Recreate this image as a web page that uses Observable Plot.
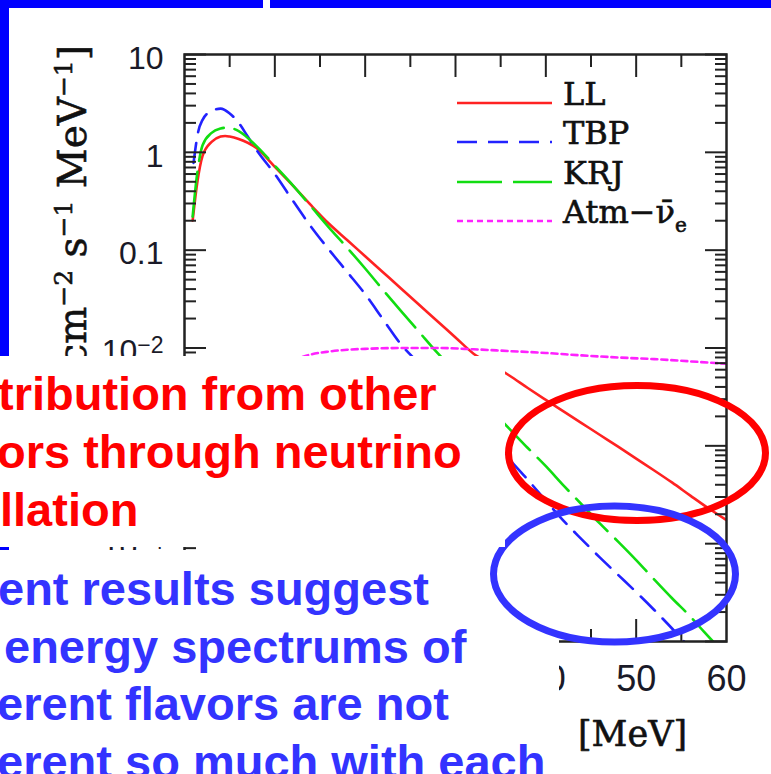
<!DOCTYPE html>
<html>
<head>
<meta charset="utf-8">
<script src="https://cdn.jsdelivr.net/npm/d3@7"></script>
<script src="https://cdn.jsdelivr.net/npm/@observablehq/plot@0.6"></script>
<style>
  html, body { margin: 0; padding: 0; background: #fff; }
  #page { position: relative; width: 771px; height: 774px; overflow: hidden; background: #fff; }
  #chart { position: absolute; left: 0; top: 0; }
  .layer { position: absolute; left: 0; top: 0; }
</style>
</head>
<body>
<div id="page">
  <div id="chart"></div>
  <svg class="layer" width="771" height="774" id="deco">
    <!-- slide frame bars -->
    <rect x="0" y="0" width="263" height="8" fill="#0000ff"/>
    <rect x="270" y="0" width="501" height="8" fill="#0000ff"/>
    <rect x="0" y="0" width="9" height="774" fill="#0000ff"/>
    <!-- y axis label -->
    <text transform="translate(86,45) rotate(-90)" text-anchor="end" font-family="DejaVu Serif, serif" font-size="39" fill="#111" stroke="#111" stroke-width="0.6">[cm<tspan dy="-14" font-size="25">−2</tspan><tspan dy="14"> s</tspan><tspan dy="-14" font-size="25">−1</tspan><tspan dy="14"> MeV</tspan><tspan dy="-14" font-size="25">−1</tspan><tspan dy="14">]</tspan></text>
    <!-- legend -->
    <g id="legend" font-family="DejaVu Serif, serif" font-size="32" fill="#111"></g>
    <!-- lower text box (blue text) -->
    <rect x="0" y="550" width="559" height="224" fill="#fff"/>
    <g font-family="Liberation Sans, Arial, sans-serif" font-weight="bold" font-size="47" fill="#3333ff">
      <text x="-2" y="605">ent results suggest</text>
      <text x="4" y="663">energy spectrums of</text>
      <text x="-3" y="720">erent flavors are not</text>
      <text x="-3" y="778">erent so much with each</text>
    </g>
    <!-- ellipses -->
    <ellipse cx="637" cy="453" rx="128.5" ry="67.5" fill="none" stroke="#ff0000" stroke-width="7"/>
    <ellipse cx="614.5" cy="574" rx="121" ry="68" fill="none" stroke="#3333ff" stroke-width="7"/>
    <!-- upper text box (red text) -->
    <rect x="0" y="356" width="505" height="191" fill="#fff"/>
    <g font-family="Liberation Sans, Arial, sans-serif" font-weight="bold" font-size="47" fill="#ff0000">
      <text x="-2" y="410">tribution from other</text>
      <text x="-3" y="468">ors through neutrino</text>
      <text x="0" y="526">llation</text>
    </g>
  </svg>
</div>
<script>
// ---- data (energy in MeV, flux in cm^-2 s^-1 MeV^-1) ----
const llE  = [0.9, 1.4, 2, 3, 4, 4.5, 5, 6, 8, 10, 12, 14, 16, 18, 20, 22, 24, 26, 28, 30, 32, 34, 36, 38, 40, 42, 44, 46, 48, 50, 52, 54, 56, 58, 60];
const llV  = [0.20, 0.48, 0.92, 1.28, 1.45, 1.47, 1.45, 1.37, 1.10, 0.71, 0.457, 0.288, 0.186, 0.127, 0.0867, 0.0592, 0.0404, 0.0275, 0.0188, 0.0128, 0.00875, 0.0068, 0.0052, 0.0039, 0.00295, 0.00224, 0.0017, 0.00129, 0.00098, 0.00074, 0.00056, 0.00042, 0.00031, 0.00023, 0.000174];

const tbpE = [1, 1.5, 2, 3, 4, 5, 6, 7, 8, 10, 12, 14, 16, 18, 20, 22, 24, 26, 28, 30, 32, 34, 36, 38, 40, 42, 44, 46, 48, 50, 52, 54, 55.3];
const tbpV = [0.78, 1.6, 2.15, 2.65, 2.8, 2.5, 2.0, 1.45, 1.05, 0.60, 0.32, 0.174, 0.101, 0.060, 0.0355, 0.0195, 0.0108, 0.0069, 0.0044, 0.0028, 0.0018, 0.00115, 0.00072, 0.00045, 0.000275, 0.00017, 0.00011, 0.000072, 0.000048, 0.000032, 0.000021, 0.0000135, 0.00001];

const krjE = [0.9, 1.4, 2, 3, 4, 4.8, 6, 8, 10, 12, 14, 16, 18, 20, 22, 24, 26, 28, 30, 32, 34, 36, 38, 40, 42, 44, 46, 48, 50, 52, 54, 56, 57.5, 58.5];
const krjV = [0.22, 0.60, 1.18, 1.58, 1.75, 1.79, 1.65, 1.15, 0.73, 0.46, 0.28, 0.17, 0.106, 0.065, 0.039, 0.0237, 0.0145, 0.0089, 0.0057, 0.0036, 0.0023, 0.00148, 0.00095, 0.00062, 0.00039, 0.00025, 0.00016, 0.000105, 0.000068, 0.000043, 0.0000275, 0.000018, 0.0000126, 0.00001];

const atmE = [12, 14, 16, 18, 20, 24, 28, 32, 36, 40, 44, 48, 52, 56, 60];
const atmV = [0.0075, 0.0086, 0.0092, 0.0096, 0.0098, 0.0100, 0.0100, 0.0097, 0.0093, 0.0089, 0.0084, 0.0080, 0.0077, 0.0073, 0.0069];

const seriesNames  = ["LL", "TBP", "KRJ", "Atm"];
const seriesColors = ["#ff2222", "#2222ff", "#11dd11", "#ff22ff"];
const seriesDash   = [null, "20,11", "45,11", "6,4"];

// ---- ticks ----
const yMajor = [1e-5, 1e-4, 1e-3, 1e-2, 0.1, 1, 10];
const yTickLabels = ["10⁻⁵", "10⁻⁴", "10⁻³", "10⁻²", "0.1", "1", "10"];
const yDecades = [1e-5, 1e-4, 1e-3, 1e-2, 0.1, 1];
const minorMult = [2, 3, 4, 5, 6, 7, 8, 9];
const yMinor = yDecades.flatMap(d => minorMult.map(m => +(m * d).toPrecision(3)));
const xMajor = [10, 20, 30, 40, 50];
const xMinor = [5, 15, 25, 35, 45, 55];
const xLabelValues = [10, 20, 30, 40, 50, 60];
const xTickLabels = ["10", "20", "30", "40", "50", "60"];
const xLabel = "[MeV]";

const zip = (E, V) => E.map((e, i) => ({e, v: V[i]}));
const allSeries = [zip(llE, llV), zip(tbpE, tbpV), zip(krjE, krjV), zip(atmE, atmV)];

const tickStyle = {stroke: "#222", strokeWidth: 2, label: null, tickFormat: () => ""};
const numFont = "Liberation Sans, Arial, sans-serif";

const marks = [];
allSeries.forEach((data, i) => {
  marks.push(Plot.line(data, {
    x: "e", y: "v", stroke: seriesColors[i], strokeWidth: 2.6,
    strokeDasharray: seriesDash[i], clip: true, curve: "monotone-x"
  }));
});
marks.push(
  Plot.axisY({...tickStyle, anchor: "left", ticks: yMajor, tickSize: -22}),
  Plot.axisY({...tickStyle, anchor: "left", ticks: yMinor, tickSize: -12}),
  Plot.axisY({...tickStyle, anchor: "right", ticks: yMajor, tickSize: -22}),
  Plot.axisY({...tickStyle, anchor: "right", ticks: yMinor, tickSize: -12}),
  Plot.axisX({...tickStyle, anchor: "top", ticks: xMajor, tickSize: -22}),
  Plot.axisX({...tickStyle, anchor: "top", ticks: xMinor, tickSize: -12}),
  Plot.axisX({...tickStyle, anchor: "bottom", ticks: xMajor, tickSize: -22}),
  Plot.axisX({...tickStyle, anchor: "bottom", ticks: xMinor, tickSize: -12}),
  Plot.axisY({anchor: "left", ticks: yMajor, tickSize: 0, tickPadding: 21, label: null,
    tickFormat: d => yTickLabels[yMajor.indexOf(d)], fontSize: 32, fontFamily: numFont, fill: "#1a1a28", dy: 4}),
  Plot.axisX({anchor: "bottom", ticks: xLabelValues, tickSize: 0, tickPadding: 24, label: null,
    tickFormat: d => xTickLabels[xLabelValues.indexOf(d)], fontSize: 36, fontFamily: numFont, fill: "#1a1a28"}),
  Plot.text([xLabel], {text: d => d, frameAnchor: "bottom-right", dx: -94, dy: 93, textAnchor: "middle",
    fontSize: 35, fontFamily: "DejaVu Serif, serif", fill: "#111", stroke: "#111", strokeWidth: 0.6, lineAnchor: "middle"}),
  Plot.frame({stroke: "#222", strokeWidth: 2.5})
);

const chart = Plot.plot({
  width: 771, height: 774,
  marginLeft: 184, marginRight: 45, marginTop: 54, marginBottom: 133,
  x: {domain: [0, 60], label: null},
  y: {type: "log", domain: [1e-5, 10], label: null},
  style: {background: "transparent", overflow: "visible"},
  marks
});
document.getElementById("chart").appendChild(chart);

// render power-of-ten tick labels with a real superscript
d3.select(chart).selectAll("text").each(function () {
  const s = this.textContent;
  const m = s.match(/^10([⁻⁰¹²³⁴⁵⁶⁷⁸⁹]+)$/);
  if (m) {
    const sup = m[1].replace("⁻", "−").replace(/[⁰¹²³⁴⁵⁶⁷⁸⁹]/g, c => "⁰¹²³⁴⁵⁶⁷⁸⁹".indexOf(c));
    const el = d3.select(this);
    el.text("");
    el.append("tspan").text("10");
    el.append("tspan").attr("dy", "-0.4em").attr("font-size", "0.72em").text(sup);
  }
});

// legend (inside plot area)
const legendY = [103, 142, 182, 221];
const ns = "http://www.w3.org/2000/svg";
const lg = document.getElementById("legend");
seriesNames.forEach((name, i) => {
  const ln = document.createElementNS(ns, "line");
  ln.setAttribute("x1", 457); ln.setAttribute("x2", 552);
  ln.setAttribute("y1", legendY[i]); ln.setAttribute("y2", legendY[i]);
  ln.setAttribute("stroke", seriesColors[i]); ln.setAttribute("stroke-width", 2.6);
  if (seriesDash[i]) ln.setAttribute("stroke-dasharray", seriesDash[i]);
  lg.appendChild(ln);
  const t = document.createElementNS(ns, "text");
  t.setAttribute("x", 563); t.setAttribute("y", legendY[i] + 2);
  t.setAttribute("stroke", "#111"); t.setAttribute("stroke-width", 0.6);
  if (name === "Atm") {
    t.innerHTML = 'Atm−ν\u0304<tspan dy="9" font-size="20">e</tspan>';
  } else {
    t.textContent = name;
  }
  lg.appendChild(t);
});
</script>
</body>
</html>
